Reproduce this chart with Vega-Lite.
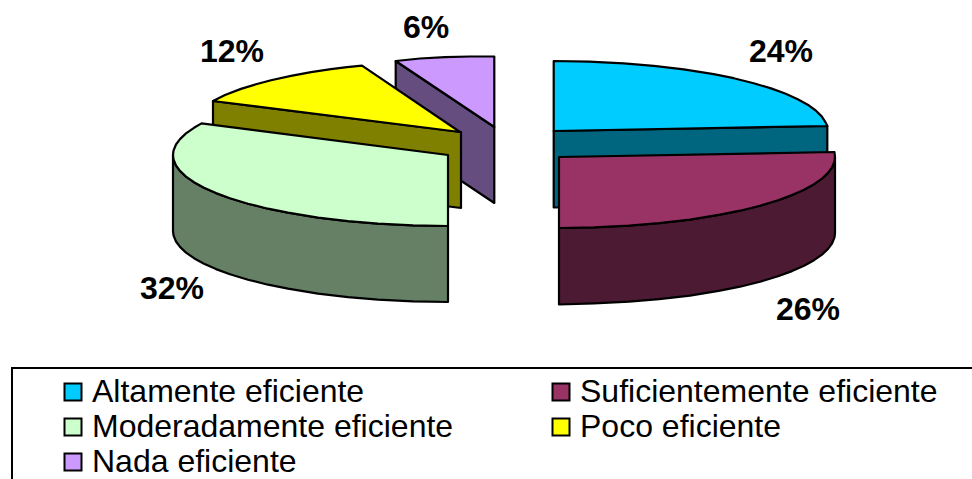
{
  "$schema": "https://vega.github.io/schema/vega-lite/v6.json",
  "width": 972,
  "height": 479,
  "padding": 0,
  "autosize": {"type": "none"},
  "background": "white",
  "view": {"stroke": null},
  "config": {"font": "Liberation Sans"},
  "datasets": {
    "caras": [
      {"cara": "Nada eficiente (lateral)", "orden": 1, "x": 395.7, "y": 61},
      {"cara": "Nada eficiente (lateral)", "orden": 2, "x": 494.3, "y": 127},
      {"cara": "Nada eficiente (lateral)", "orden": 3, "x": 494.3, "y": 203},
      {"cara": "Nada eficiente (lateral)", "orden": 4, "x": 395.7, "y": 137},
      {"cara": "Nada eficiente", "orden": 1, "x": 494.3, "y": 127},
      {"cara": "Nada eficiente", "orden": 2, "x": 395.7, "y": 61},
      {"cara": "Nada eficiente", "orden": 3, "x": 420, "y": 58.5},
      {"cara": "Nada eficiente", "orden": 4, "x": 445, "y": 57.2},
      {"cara": "Nada eficiente", "orden": 5, "x": 470, "y": 56.5},
      {"cara": "Nada eficiente", "orden": 6, "x": 494.3, "y": 56.5},
      {"cara": "Poco eficiente (lateral)", "orden": 1, "x": 213, "y": 101},
      {"cara": "Poco eficiente (lateral)", "orden": 2, "x": 461, "y": 132},
      {"cara": "Poco eficiente (lateral)", "orden": 3, "x": 461, "y": 208},
      {"cara": "Poco eficiente (lateral)", "orden": 4, "x": 213, "y": 177},
      {"cara": "Poco eficiente", "orden": 1, "x": 460, "y": 132},
      {"cara": "Poco eficiente", "orden": 2, "x": 213, "y": 101},
      {"cara": "Poco eficiente", "orden": 3, "x": 225, "y": 95},
      {"cara": "Poco eficiente", "orden": 4, "x": 241, "y": 88.9},
      {"cara": "Poco eficiente", "orden": 5, "x": 256, "y": 84.3},
      {"cara": "Poco eficiente", "orden": 6, "x": 271, "y": 80.3},
      {"cara": "Poco eficiente", "orden": 7, "x": 291, "y": 75.9},
      {"cara": "Poco eficiente", "orden": 8, "x": 311, "y": 72.2},
      {"cara": "Poco eficiente", "orden": 9, "x": 331, "y": 69.2},
      {"cara": "Poco eficiente", "orden": 10, "x": 347, "y": 67.2},
      {"cara": "Poco eficiente", "orden": 11, "x": 362, "y": 65.6},
      {"cara": "Moderadamente eficiente (lateral)", "orden": 1, "x": 173, "y": 155},
      {"cara": "Moderadamente eficiente (lateral)", "orden": 2, "x": 173.5, "y": 159.3},
      {"cara": "Moderadamente eficiente (lateral)", "orden": 3, "x": 176, "y": 165.5},
      {"cara": "Moderadamente eficiente (lateral)", "orden": 4, "x": 180, "y": 170.9},
      {"cara": "Moderadamente eficiente (lateral)", "orden": 5, "x": 186, "y": 176.6},
      {"cara": "Moderadamente eficiente (lateral)", "orden": 6, "x": 194, "y": 182.2},
      {"cara": "Moderadamente eficiente (lateral)", "orden": 7, "x": 204, "y": 187.7},
      {"cara": "Moderadamente eficiente (lateral)", "orden": 8, "x": 216, "y": 193.1},
      {"cara": "Moderadamente eficiente (lateral)", "orden": 9, "x": 230, "y": 198.3},
      {"cara": "Moderadamente eficiente (lateral)", "orden": 10, "x": 248, "y": 203.7},
      {"cara": "Moderadamente eficiente (lateral)", "orden": 11, "x": 268, "y": 208.7},
      {"cara": "Moderadamente eficiente (lateral)", "orden": 12, "x": 288, "y": 212.7},
      {"cara": "Moderadamente eficiente (lateral)", "orden": 13, "x": 318, "y": 217.6},
      {"cara": "Moderadamente eficiente (lateral)", "orden": 14, "x": 348, "y": 221.2},
      {"cara": "Moderadamente eficiente (lateral)", "orden": 15, "x": 378, "y": 223.7},
      {"cara": "Moderadamente eficiente (lateral)", "orden": 16, "x": 413, "y": 225.4},
      {"cara": "Moderadamente eficiente (lateral)", "orden": 17, "x": 448, "y": 226},
      {"cara": "Moderadamente eficiente (lateral)", "orden": 18, "x": 448, "y": 302},
      {"cara": "Moderadamente eficiente (lateral)", "orden": 19, "x": 413, "y": 301.4},
      {"cara": "Moderadamente eficiente (lateral)", "orden": 20, "x": 378, "y": 299.7},
      {"cara": "Moderadamente eficiente (lateral)", "orden": 21, "x": 348, "y": 297.2},
      {"cara": "Moderadamente eficiente (lateral)", "orden": 22, "x": 318, "y": 293.6},
      {"cara": "Moderadamente eficiente (lateral)", "orden": 23, "x": 288, "y": 288.7},
      {"cara": "Moderadamente eficiente (lateral)", "orden": 24, "x": 268, "y": 284.7},
      {"cara": "Moderadamente eficiente (lateral)", "orden": 25, "x": 248, "y": 279.7},
      {"cara": "Moderadamente eficiente (lateral)", "orden": 26, "x": 230, "y": 274.3},
      {"cara": "Moderadamente eficiente (lateral)", "orden": 27, "x": 216, "y": 269.1},
      {"cara": "Moderadamente eficiente (lateral)", "orden": 28, "x": 204, "y": 263.7},
      {"cara": "Moderadamente eficiente (lateral)", "orden": 29, "x": 194, "y": 258.2},
      {"cara": "Moderadamente eficiente (lateral)", "orden": 30, "x": 186, "y": 252.6},
      {"cara": "Moderadamente eficiente (lateral)", "orden": 31, "x": 180, "y": 246.9},
      {"cara": "Moderadamente eficiente (lateral)", "orden": 32, "x": 176, "y": 241.5},
      {"cara": "Moderadamente eficiente (lateral)", "orden": 33, "x": 173.5, "y": 235.3},
      {"cara": "Moderadamente eficiente (lateral)", "orden": 34, "x": 173, "y": 231},
      {"cara": "Moderadamente eficiente", "orden": 1, "x": 448, "y": 155},
      {"cara": "Moderadamente eficiente", "orden": 2, "x": 201.5, "y": 123.4},
      {"cara": "Moderadamente eficiente", "orden": 3, "x": 194, "y": 127.8},
      {"cara": "Moderadamente eficiente", "orden": 4, "x": 186, "y": 133.4},
      {"cara": "Moderadamente eficiente", "orden": 5, "x": 180, "y": 139.1},
      {"cara": "Moderadamente eficiente", "orden": 6, "x": 176, "y": 144.5},
      {"cara": "Moderadamente eficiente", "orden": 7, "x": 173.5, "y": 150.7},
      {"cara": "Moderadamente eficiente", "orden": 8, "x": 173, "y": 155},
      {"cara": "Moderadamente eficiente", "orden": 9, "x": 173.5, "y": 159.3},
      {"cara": "Moderadamente eficiente", "orden": 10, "x": 176, "y": 165.5},
      {"cara": "Moderadamente eficiente", "orden": 11, "x": 180, "y": 170.9},
      {"cara": "Moderadamente eficiente", "orden": 12, "x": 186, "y": 176.6},
      {"cara": "Moderadamente eficiente", "orden": 13, "x": 194, "y": 182.2},
      {"cara": "Moderadamente eficiente", "orden": 14, "x": 204, "y": 187.7},
      {"cara": "Moderadamente eficiente", "orden": 15, "x": 216, "y": 193.1},
      {"cara": "Moderadamente eficiente", "orden": 16, "x": 230, "y": 198.3},
      {"cara": "Moderadamente eficiente", "orden": 17, "x": 248, "y": 203.7},
      {"cara": "Moderadamente eficiente", "orden": 18, "x": 268, "y": 208.7},
      {"cara": "Moderadamente eficiente", "orden": 19, "x": 288, "y": 212.7},
      {"cara": "Moderadamente eficiente", "orden": 20, "x": 318, "y": 217.6},
      {"cara": "Moderadamente eficiente", "orden": 21, "x": 348, "y": 221.2},
      {"cara": "Moderadamente eficiente", "orden": 22, "x": 378, "y": 223.7},
      {"cara": "Moderadamente eficiente", "orden": 23, "x": 413, "y": 225.4},
      {"cara": "Moderadamente eficiente", "orden": 24, "x": 448, "y": 226},
      {"cara": "Altamente eficiente (lateral)", "orden": 1, "x": 553.7, "y": 131},
      {"cara": "Altamente eficiente (lateral)", "orden": 2, "x": 827.3, "y": 126},
      {"cara": "Altamente eficiente (lateral)", "orden": 3, "x": 827.3, "y": 202},
      {"cara": "Altamente eficiente (lateral)", "orden": 4, "x": 553.7, "y": 207.5},
      {"cara": "Altamente eficiente", "orden": 1, "x": 553.7, "y": 131},
      {"cara": "Altamente eficiente", "orden": 2, "x": 553.7, "y": 61},
      {"cara": "Altamente eficiente", "orden": 3, "x": 588.7, "y": 61.6},
      {"cara": "Altamente eficiente", "orden": 4, "x": 623.7, "y": 63.3},
      {"cara": "Altamente eficiente", "orden": 5, "x": 653.7, "y": 65.8},
      {"cara": "Altamente eficiente", "orden": 6, "x": 683.7, "y": 69.4},
      {"cara": "Altamente eficiente", "orden": 7, "x": 713.7, "y": 74.2},
      {"cara": "Altamente eficiente", "orden": 8, "x": 733.7, "y": 78.2},
      {"cara": "Altamente eficiente", "orden": 9, "x": 753.7, "y": 83.2},
      {"cara": "Altamente eficiente", "orden": 10, "x": 771.7, "y": 88.6},
      {"cara": "Altamente eficiente", "orden": 11, "x": 785.7, "y": 93.8},
      {"cara": "Altamente eficiente", "orden": 12, "x": 797.7, "y": 99.2},
      {"cara": "Altamente eficiente", "orden": 13, "x": 807.7, "y": 104.7},
      {"cara": "Altamente eficiente", "orden": 14, "x": 815.7, "y": 110.5},
      {"cara": "Altamente eficiente", "orden": 15, "x": 821.7, "y": 116.4},
      {"cara": "Altamente eficiente", "orden": 16, "x": 825.7, "y": 122.6},
      {"cara": "Altamente eficiente", "orden": 17, "x": 827.3, "y": 126},
      {"cara": "Suficientemente eficiente (lateral)", "orden": 1, "x": 835, "y": 157},
      {"cara": "Suficientemente eficiente (lateral)", "orden": 2, "x": 834.5, "y": 161.3},
      {"cara": "Suficientemente eficiente (lateral)", "orden": 3, "x": 832, "y": 167.5},
      {"cara": "Suficientemente eficiente (lateral)", "orden": 4, "x": 828, "y": 172.9},
      {"cara": "Suficientemente eficiente (lateral)", "orden": 5, "x": 822, "y": 178.6},
      {"cara": "Suficientemente eficiente (lateral)", "orden": 6, "x": 814, "y": 184.2},
      {"cara": "Suficientemente eficiente (lateral)", "orden": 7, "x": 804, "y": 189.7},
      {"cara": "Suficientemente eficiente (lateral)", "orden": 8, "x": 792, "y": 195.1},
      {"cara": "Suficientemente eficiente (lateral)", "orden": 9, "x": 778, "y": 200.3},
      {"cara": "Suficientemente eficiente (lateral)", "orden": 10, "x": 760, "y": 205.7},
      {"cara": "Suficientemente eficiente (lateral)", "orden": 11, "x": 740, "y": 210.7},
      {"cara": "Suficientemente eficiente (lateral)", "orden": 12, "x": 720, "y": 214.7},
      {"cara": "Suficientemente eficiente (lateral)", "orden": 13, "x": 690, "y": 219.6},
      {"cara": "Suficientemente eficiente (lateral)", "orden": 14, "x": 659, "y": 223.2},
      {"cara": "Suficientemente eficiente (lateral)", "orden": 15, "x": 629, "y": 225.7},
      {"cara": "Suficientemente eficiente (lateral)", "orden": 16, "x": 594, "y": 227.4},
      {"cara": "Suficientemente eficiente (lateral)", "orden": 17, "x": 559, "y": 228},
      {"cara": "Suficientemente eficiente (lateral)", "orden": 18, "x": 559, "y": 304.5},
      {"cara": "Suficientemente eficiente (lateral)", "orden": 19, "x": 594, "y": 303.4},
      {"cara": "Suficientemente eficiente (lateral)", "orden": 20, "x": 629, "y": 301.7},
      {"cara": "Suficientemente eficiente (lateral)", "orden": 21, "x": 659, "y": 299.2},
      {"cara": "Suficientemente eficiente (lateral)", "orden": 22, "x": 690, "y": 295.6},
      {"cara": "Suficientemente eficiente (lateral)", "orden": 23, "x": 720, "y": 290.7},
      {"cara": "Suficientemente eficiente (lateral)", "orden": 24, "x": 740, "y": 286.7},
      {"cara": "Suficientemente eficiente (lateral)", "orden": 25, "x": 760, "y": 281.7},
      {"cara": "Suficientemente eficiente (lateral)", "orden": 26, "x": 778, "y": 276.3},
      {"cara": "Suficientemente eficiente (lateral)", "orden": 27, "x": 792, "y": 271.1},
      {"cara": "Suficientemente eficiente (lateral)", "orden": 28, "x": 804, "y": 265.7},
      {"cara": "Suficientemente eficiente (lateral)", "orden": 29, "x": 814, "y": 260.2},
      {"cara": "Suficientemente eficiente (lateral)", "orden": 30, "x": 822, "y": 254.6},
      {"cara": "Suficientemente eficiente (lateral)", "orden": 31, "x": 828, "y": 248.9},
      {"cara": "Suficientemente eficiente (lateral)", "orden": 32, "x": 832, "y": 243.5},
      {"cara": "Suficientemente eficiente (lateral)", "orden": 33, "x": 834.5, "y": 237.3},
      {"cara": "Suficientemente eficiente (lateral)", "orden": 34, "x": 835, "y": 233},
      {"cara": "Suficientemente eficiente", "orden": 1, "x": 559, "y": 157},
      {"cara": "Suficientemente eficiente", "orden": 2, "x": 834.5, "y": 152},
      {"cara": "Suficientemente eficiente", "orden": 3, "x": 835, "y": 157},
      {"cara": "Suficientemente eficiente", "orden": 4, "x": 834.5, "y": 161.3},
      {"cara": "Suficientemente eficiente", "orden": 5, "x": 832, "y": 167.5},
      {"cara": "Suficientemente eficiente", "orden": 6, "x": 828, "y": 172.9},
      {"cara": "Suficientemente eficiente", "orden": 7, "x": 822, "y": 178.6},
      {"cara": "Suficientemente eficiente", "orden": 8, "x": 814, "y": 184.2},
      {"cara": "Suficientemente eficiente", "orden": 9, "x": 804, "y": 189.7},
      {"cara": "Suficientemente eficiente", "orden": 10, "x": 792, "y": 195.1},
      {"cara": "Suficientemente eficiente", "orden": 11, "x": 778, "y": 200.3},
      {"cara": "Suficientemente eficiente", "orden": 12, "x": 760, "y": 205.7},
      {"cara": "Suficientemente eficiente", "orden": 13, "x": 740, "y": 210.7},
      {"cara": "Suficientemente eficiente", "orden": 14, "x": 720, "y": 214.7},
      {"cara": "Suficientemente eficiente", "orden": 15, "x": 690, "y": 219.6},
      {"cara": "Suficientemente eficiente", "orden": 16, "x": 659, "y": 223.2},
      {"cara": "Suficientemente eficiente", "orden": 17, "x": 629, "y": 225.7},
      {"cara": "Suficientemente eficiente", "orden": 18, "x": 594, "y": 227.4},
      {"cara": "Suficientemente eficiente", "orden": 19, "x": 559, "y": 228}
    ],
    "porcentajes": [
      {"categoria": "Altamente eficiente", "porcentaje": 0.24, "x": 781, "y": 52},
      {"categoria": "Suficientemente eficiente", "porcentaje": 0.26, "x": 808, "y": 310},
      {"categoria": "Moderadamente eficiente", "porcentaje": 0.32, "x": 172, "y": 289},
      {"categoria": "Poco eficiente", "porcentaje": 0.12, "x": 232, "y": 52},
      {"categoria": "Nada eficiente", "porcentaje": 0.06, "x": 426, "y": 28}
    ],
    "marco": [{"x": 12, "x2": 1000, "y": 368, "y2": 520}]
  },
  "layer": [
    {
      "data": {"name": "marco"},
      "mark": {"type": "rect", "fill": "white", "stroke": "black", "strokeWidth": 2, "clip": true},
      "encoding": {
        "x": {"field": "x", "type": "quantitative", "scale": {"domain": [0, 972]}, "axis": null},
        "x2": {"field": "x2"},
        "y": {"field": "y", "type": "quantitative", "scale": {"domain": [0, 479], "reverse": true}, "axis": null},
        "y2": {"field": "y2"}
      }
    },
    {
      "data": {"name": "caras"},
      "mark": {"type": "line", "interpolate": "linear-closed", "stroke": "black", "strokeWidth": 2.2, "strokeJoin": "round"},
      "encoding": {
        "x": {"field": "x", "type": "quantitative", "scale": {"domain": [0, 972]}, "axis": null},
        "y": {"field": "y", "type": "quantitative", "scale": {"domain": [0, 479], "reverse": true}, "axis": null},
        "order": {"field": "orden", "type": "quantitative"},
        "fill": {
          "field": "cara",
          "type": "nominal",
          "scale": {
            "domain": [
              "Altamente eficiente", "Suficientemente eficiente", "Moderadamente eficiente", "Poco eficiente", "Nada eficiente",
              "Altamente eficiente (lateral)", "Suficientemente eficiente (lateral)", "Moderadamente eficiente (lateral)", "Poco eficiente (lateral)", "Nada eficiente (lateral)"
            ],
            "range": ["#00ccff", "#993366", "#ccffcc", "#ffff00", "#cc99ff", "#006680", "#4d1a33", "#668066", "#808000", "#664d80"]
          },
          "legend": {
            "orient": "none",
            "legendX": 57,
            "legendY": 376,
            "direction": "horizontal",
            "columns": 2,
            "title": null,
            "padding": 0,
            "values": ["Altamente eficiente", "Suficientemente eficiente", "Moderadamente eficiente", "Poco eficiente", "Nada eficiente"],
            "symbolType": "square",
            "symbolSize": 289,
            "symbolStrokeColor": "black",
            "symbolStrokeWidth": 2,
            "symbolOpacity": 1,
            "labelFont": "Liberation Sans",
            "labelFontSize": 32,
            "labelColor": "black",
            "labelOffset": 3,
            "labelLimit": 500,
            "rowPadding": 3,
            "columnPadding": 91,
            "gridAlign": "each"
          }
        }
      }
    },
    {
      "data": {"name": "porcentajes"},
      "mark": {"type": "text", "font": "Liberation Sans", "fontWeight": "bold", "fontSize": 32, "color": "black", "align": "center", "baseline": "middle"},
      "encoding": {
        "x": {"field": "x", "type": "quantitative", "scale": {"domain": [0, 972]}, "axis": null},
        "y": {"field": "y", "type": "quantitative", "scale": {"domain": [0, 479], "reverse": true}, "axis": null},
        "text": {"field": "porcentaje", "type": "quantitative", "format": ".0%"}
      }
    }
  ]
}
